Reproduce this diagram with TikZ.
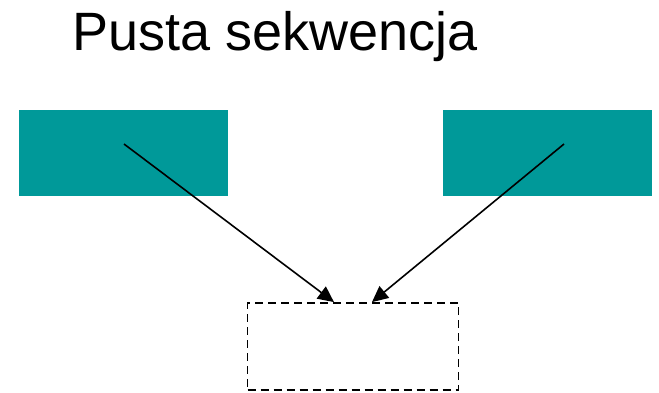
\documentclass[tikz,border=0pt]{standalone}
\usepackage{fontspec}
\setmainfont{Liberation Sans}
\usetikzlibrary{arrows.meta,calc}
\definecolor{tealbox}{RGB}{0,153,153}
\begin{document}
\begin{tikzpicture}[x=1pt,y=-1pt,
  block/.style={fill=tealbox,draw=none,minimum width=209pt,minimum height=86pt,inner sep=0pt},
  emptyseq/.style={draw=black,line width=1.8pt,dash pattern=on 8pt off 5pt,minimum width=211pt,minimum height=87pt,inner sep=0pt},
  link/.style={line width=1.6pt,-{Triangle[length=16pt,width=15pt]}}]
  \useasboundingbox (0,0) rectangle (659,392);
  % title
  \node[anchor=base west,inner sep=0pt,font=\fontsize{54}{60}\selectfont] (title) at (72,50) {Pusta sekwencja};
  % source blocks
  \node[block] (left) at (123.5,153) {};
  \node[block] (right) at (547.5,153) {};
  % empty sequence
  \node[emptyseq] (empty) at (353,346.5) {};
  \coordinate (ls) at (124,144);
  \coordinate (rs) at (564,144);
  \coordinate (lt) at ($(empty.north)+(-19,0)$);
  \coordinate (rt) at ($(empty.north)+(19,0)$);
  \draw[link] (ls) -- (lt);
  \draw[link] (rs) -- (rt);
\end{tikzpicture}
\end{document}
